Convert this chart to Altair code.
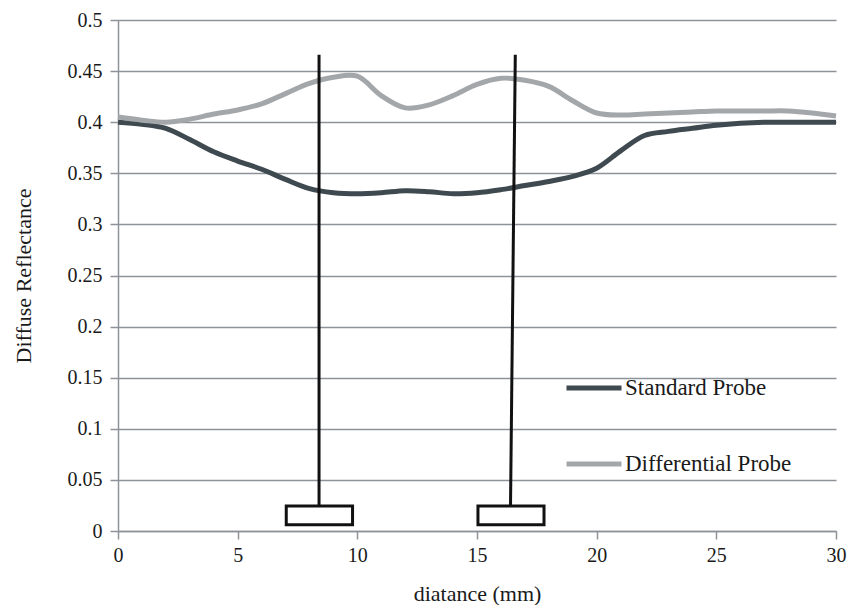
import altair as alt
import pandas as pd

# distance (mm)
distance = list(range(0, 31))
standard = [0.400, 0.398, 0.394, 0.383, 0.371, 0.362, 0.354, 0.344, 0.335, 0.331,
            0.330, 0.331, 0.333, 0.332, 0.330, 0.331, 0.334, 0.338, 0.342, 0.347,
            0.355, 0.372, 0.387, 0.391, 0.394, 0.397, 0.399, 0.400, 0.400, 0.400, 0.400]
differential = [0.405, 0.402, 0.400, 0.403, 0.408, 0.412, 0.418, 0.428, 0.438, 0.444,
                0.445, 0.426, 0.414, 0.417, 0.426, 0.437, 0.443, 0.441, 0.435, 0.421,
                0.409, 0.407, 0.408, 0.409, 0.410, 0.411, 0.411, 0.411, 0.411, 0.409, 0.406]

series_names = ["Standard Probe", "Differential Probe"]
series_colors = ["#3e4950", "#a4a7aa"]

# probe stems: bottom x, top x, bottom y, top y
probe_x_bottom = [8.4, 16.4]
probe_x_top = [8.4, 16.6]
probe_y_bottom = [0.0245, 0.0245]
probe_y_top = [0.466, 0.466]

# probe heads (boxes)
box_x1 = [7.03, 15.04]
box_x2 = [9.8, 17.8]
box_y1 = [0.006, 0.006]
box_y2 = [0.0245, 0.0245]

x_ticks = [0, 5, 10, 15, 20, 25, 30]
y_ticks = [0, 0.05, 0.1, 0.15, 0.2, 0.25, 0.3, 0.35, 0.4, 0.45, 0.5]

rows = []
for i, d in enumerate(distance):
    rows.append({"distance": d, "value": standard[i], "series": series_names[0]})
    rows.append({"distance": d, "value": differential[i], "series": series_names[1]})
df = pd.DataFrame(rows)

probes = pd.DataFrame({"xb": probe_x_bottom, "xt": probe_x_top,
                       "yb": probe_y_bottom, "yt": probe_y_top})
boxes = pd.DataFrame({"x1": box_x1, "x2": box_x2, "y1": box_y1, "y2": box_y2})

FONT = "Liberation Serif"
GRID = "#8e939a"

xscale = alt.Scale(domain=[0, 30], nice=False, zero=False)
yscale = alt.Scale(domain=[0, 0.5], nice=False)

lines = alt.Chart(df).mark_line(strokeWidth=5, interpolate="catmull-rom").encode(
    x=alt.X("distance:Q", scale=xscale,
            axis=alt.Axis(values=x_ticks, title="diatance (mm)", grid=False,
                          labelFlush=False, tickSize=8, labelPadding=6,
                          titlePadding=18)),
    y=alt.Y("value:Q", scale=yscale,
            axis=alt.Axis(values=y_ticks, format=".2~f", title="Diffuse Reflectance",
                          grid=True, labelFlush=False, tickSize=8, labelPadding=8,
                          titlePadding=32)),
    color=alt.Color("series:N",
                    scale=alt.Scale(domain=series_names, range=series_colors),
                    sort=series_names,
                    legend=alt.Legend(title=None, orient="none", legendX=446, legendY=338,
                                      symbolType="stroke", symbolSize=3025,
                                      symbolStrokeWidth=5, rowPadding=34,
                                      labelFontSize=23, labelFont=FONT,
                                      labelColor="#1a1a1a", labelOffset=1,
                                      labelLimit=400)),
)

stems = alt.Chart(probes).mark_rule(color="#111111", strokeWidth=3).encode(
    x=alt.X("xb:Q", scale=xscale),
    x2="xt:Q",
    y=alt.Y("yb:Q", scale=yscale),
    y2="yt:Q",
)

heads = alt.Chart(boxes).mark_rect(fill="white", stroke="#111111", strokeWidth=3).encode(
    x=alt.X("x1:Q", scale=xscale),
    x2="x2:Q",
    y=alt.Y("y1:Q", scale=yscale),
    y2="y2:Q",
)

chart = alt.layer(lines, stems, heads).properties(
    width=718, height=511,
    background="white",
    autosize=alt.AutoSizeParams(type="none"),
    padding={"left": 110, "top": 12, "right": 11, "bottom": 74},
).configure_view(stroke=None).configure_axis(
    labelFont=FONT, titleFont=FONT, labelFontSize=20, titleFontSize=22,
    titleFontWeight="normal", labelColor="#1a1a1a", titleColor="#1a1a1a",
    domainColor=GRID, tickColor=GRID, gridColor=GRID,
    domainWidth=1.5, tickWidth=1.5, gridWidth=1.5,
)

chart.save("out.html", embed_options={"renderer": "svg", "actions": False})
